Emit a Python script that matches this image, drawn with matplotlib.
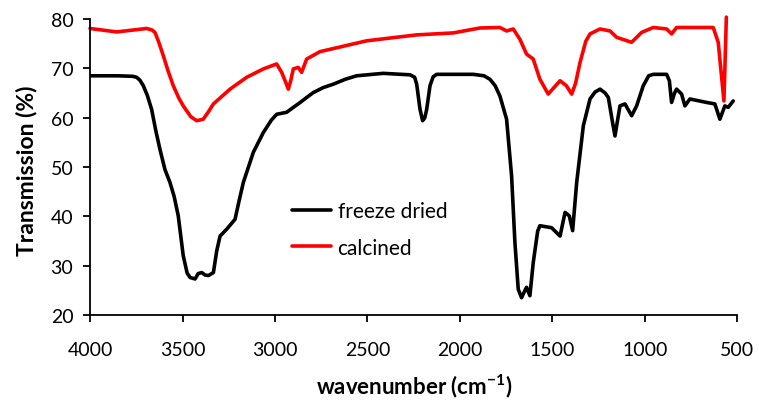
import matplotlib
matplotlib.use("Agg")
import matplotlib.pyplot as plt

plt.rcParams['font.family'] = ['Lato', 'DejaVu Sans']

# freeze dried spectrum (wavenumber, transmission %)
fd_wn = [4000, 3850, 3770, 3748, 3730, 3712, 3690, 3667, 3645, 3622, 3595, 3568,
         3545, 3523, 3496, 3475, 3459, 3432, 3415, 3396, 3378, 3360, 3333, 3315,
         3297, 3261, 3216, 3195, 3171, 3117, 3063, 3020, 2991, 2937, 2901, 2860,
         2829, 2793, 2740, 2685, 2620, 2559, 2415, 2270, 2245, 2234, 2216, 2202,
         2190, 2180, 2162, 2145, 2126, 1928, 1870, 1838, 1810, 1784, 1748, 1721,
         1703, 1685, 1667, 1655, 1640, 1622, 1604, 1580, 1568, 1505, 1459, 1432,
         1409, 1391, 1369, 1333, 1297, 1270, 1243, 1215, 1198, 1175, 1162, 1148,
         1135, 1108, 1072, 1045, 1009, 980, 955, 883, 868, 856, 840, 829, 802, 784,
         757, 667, 622, 595, 568, 550, 523]
fd_t = [68.5, 68.5, 68.4, 68.2, 67.6, 66.5, 64.5, 61.7, 57.5, 53.6, 49.5, 46.9,
        44.0, 40.1, 32.0, 28.5, 27.6, 27.3, 28.4, 28.6, 28.1, 28.0, 28.6, 33.0,
        36.0, 37.4, 39.4, 43.0, 46.9, 53.0, 57.0, 59.5, 60.7, 61.1, 62.1, 63.2,
        64.1, 65.1, 66.1, 66.8, 67.8, 68.5, 69.0, 68.7, 68.2, 66.8, 61.7, 59.4,
        60.0, 61.7, 66.5, 68.3, 68.8, 68.8, 68.5, 67.8, 66.5, 64.4, 59.7, 48.2,
        34.7, 25.2, 23.5, 24.5, 25.6, 23.9, 30.6, 37.0, 38.1, 37.7, 36.0, 40.8,
        40.1, 37.1, 46.9, 58.4, 63.8, 65.2, 65.8, 65.0, 64.1, 59.0, 56.3, 59.5,
        62.4, 62.8, 60.4, 62.4, 66.5, 68.5, 68.8, 68.8, 67.5, 63.1, 65.0, 65.8,
        64.8, 62.4, 63.8, 63.1, 62.8, 59.7, 62.4, 62.1, 63.4]

# calcined spectrum
cal_wn = [4000, 3856, 3694, 3665, 3649, 3630, 3604, 3578, 3550, 3520, 3496, 3455,
          3423, 3388, 3360, 3333, 3243, 3153, 3063, 2991, 2964, 2940, 2928, 2915,
          2901, 2874, 2856, 2840, 2829, 2757, 2504, 2234, 2036, 1892, 1784, 1748,
          1712, 1676, 1640, 1604, 1568, 1523, 1490, 1459, 1425, 1396, 1375, 1351,
          1320, 1297, 1243, 1189, 1153, 1072, 1018, 955, 883, 856, 829, 631, 604,
          573, 560]
cal_t = [78.1, 77.4, 78.1, 77.8, 77.3, 75.5, 72.6, 69.5, 66.5, 64.0, 62.4, 60.2,
         59.4, 59.7, 61.2, 62.8, 65.8, 68.2, 69.9, 70.9, 69.2, 67.0, 65.8, 67.5,
         69.9, 70.2, 69.2, 70.8, 71.9, 73.4, 75.6, 76.8, 77.2, 78.2, 78.3, 77.6,
         78.0, 75.9, 72.9, 71.9, 67.8, 64.8, 66.2, 67.5, 66.5, 64.8, 67.0, 71.2,
         75.5, 77.0, 78.0, 77.6, 76.3, 75.3, 77.3, 78.3, 78.0, 77.0, 78.3, 78.3,
         75.3, 63.4, 80.4]

fig = plt.figure(figsize=(7.59, 4.02), dpi=100)
ax = fig.add_axes([0.1186, 0.214, 0.853, 0.736])

ax.plot(fd_wn, fd_t, color='black', lw=2.6, label='freeze dried',
        solid_joinstyle='round', solid_capstyle='round')
ax.plot(cal_wn, cal_t, color='#ff0000', lw=2.6, label='calcined', clip_on=False,
        solid_joinstyle='round', solid_capstyle='round')

ax.set_xlim(4000, 500)
ax.set_ylim(20, 80)
ax.set_xticks(range(4000, 499, -500))
ax.set_yticks(range(20, 81, 10))
ax.spines['top'].set_visible(False)
ax.spines['right'].set_visible(False)
ax.spines['left'].set_linewidth(1.3)
ax.spines['bottom'].set_linewidth(1.3)
ax.tick_params(axis='both', labelsize=14, width=1.3, length=5)
ax.tick_params(axis='x', pad=14)
ax.tick_params(axis='y', pad=7)

ax.set_xlabel('wavenumber (cm$^{\\mathregular{-1}}$)', fontsize=16, fontweight='bold')
ax.set_ylabel('Transmission (%)', fontsize=16.5, fontweight='bold')
ax.xaxis.set_label_coords(0.501, -0.19)
ax.yaxis.set_label_coords(-0.082, 0.49)

ax.legend(loc='center left', bbox_to_anchor=(0.3115, 0.29), frameon=False,
          fontsize=15, handlelength=1.9, handletextpad=0.3, labelspacing=0.8,
          borderpad=0, borderaxespad=0)

fig.savefig('out.png', dpi=100)
